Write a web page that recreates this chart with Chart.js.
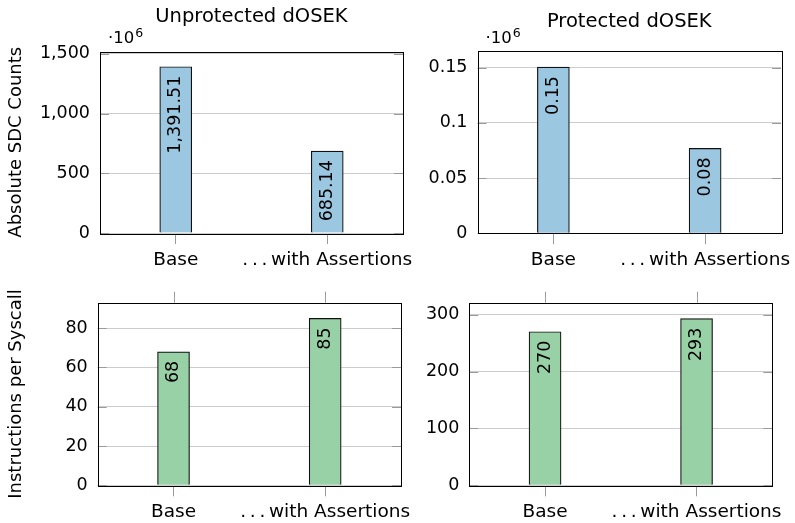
<!DOCTYPE html>
<html>
<head>
<meta charset="utf-8">
<script src="https://cdn.jsdelivr.net/npm/chart.js@4.4.1/dist/chart.umd.min.js"></script>
<style>
  html, body { margin: 0; padding: 0; background: #fff; }
  #wrap { position: relative; width: 795px; height: 523px; }
  #wrap canvas { position: absolute; left: 0; top: 0; }
</style>
</head>
<body>
<div id="wrap">
  <canvas id="sdcUnprot" width="795" height="523"></canvas>
  <canvas id="sdcProt" width="795" height="523"></canvas>
  <canvas id="insUnprot" width="795" height="523"></canvas>
  <canvas id="insProt" width="795" height="523"></canvas>
</div>
<script>
// categories shared by all four panels
const categories = ['Base', '.\u2009.\u2009.\u2009with Assertions'];

// SDC counts (in units of 10^6)
const sdcUnprotected = [1391.51, 685.14];
const sdcProtected = [0.1505, 0.0768];
// instructions per syscall
const insUnprotected = [68, 85];
const insProtected = [270, 293];

// y tick labels
const sdcUnprotTicks = [0, 500, 1000, 1500];
const sdcProtTicks = [0, 0.05, 0.1, 0.15];
const insUnprotTicks = [0, 20, 40, 60, 80];
const insProtTicks = [0, 100, 200, 300];

const BLUE = '#9bc7e0';
const GREEN = '#99d1a7';
const FONT = '"DejaVu Sans", sans-serif';

Chart.defaults.font.family = FONT;
Chart.defaults.font.size = 17;
Chart.defaults.color = '#000';

const decorate = {
  id: 'decorate',
  afterDatasetsDraw(chart, args, o) {
    const ctx = chart.ctx;
    const meta = chart.getDatasetMeta(0);
    const vals = chart.data.datasets[0].data;
    ctx.save();
    ctx.font = '17.5px ' + FONT;
    ctx.fillStyle = '#000';
    meta.data.forEach((bar, i) => {
      ctx.save();
      ctx.translate(bar.x, bar.y + 9);
      ctx.rotate(-Math.PI / 2);
      ctx.textAlign = 'right';
      ctx.textBaseline = 'middle';
      ctx.fillText(o.fmt(vals[i]), 0, 0);
      ctx.restore();
    });
    ctx.restore();
  },
  afterDraw(chart, args, o) {
    const {ctx, chartArea: a} = chart;
    const y = chart.scales.y, x = chart.scales.x;
    ctx.save();
    // inner tick marks on both sides
    ctx.strokeStyle = '#9a9a9a';
    ctx.lineWidth = 1;
    y.ticks.forEach(t => {
      const py = Math.round(y.getPixelForValue(t.value)) + 0.5;
      ctx.beginPath();
      ctx.moveTo(a.left, py); ctx.lineTo(a.left + 9, py);
      ctx.moveTo(a.right, py); ctx.lineTo(a.right - 9, py);
      ctx.stroke();
    });
    if (o.topTicks) {
      x.ticks.forEach((t, i) => {
        const px = Math.round(x.getPixelForTick(i)) + 0.5;
        ctx.beginPath();
        ctx.moveTo(px, a.top - 11); ctx.lineTo(px, a.top);
        ctx.stroke();
      });
    }
    // axis box
    ctx.strokeStyle = '#000';
    ctx.strokeRect(Math.round(a.left) + 0.5, Math.round(a.top) + 0.5,
      Math.round(a.right - a.left), Math.round(a.bottom - a.top));
    ctx.fillStyle = '#000';
    if (o.title) {
      ctx.font = '19.5px ' + FONT;
      ctx.textAlign = 'center';
      ctx.textBaseline = 'alphabetic';
      ctx.fillText(o.title, (a.left + a.right) / 2, o.titleY);
    }
    if (o.multiplier) {
      ctx.textAlign = 'left';
      ctx.textBaseline = 'alphabetic';
      ctx.font = '16.5px ' + FONT;
      const x0 = a.left + 8;
      ctx.fillText('\u00b710', x0, 43);
      const w = ctx.measureText('\u00b710').width;
      ctx.font = '12.5px ' + FONT;
      ctx.fillText('6', x0 + w + 1, 37);
    }
    ctx.restore();
  }
};

function panel(id, p) {
  const yw = p.area.l - p.padLeft;
  return new Chart(document.getElementById(id), {
    type: 'bar',
    data: {
      labels: categories,
      datasets: [{
        data: p.values,
        backgroundColor: p.color,
        borderColor: '#111',
        borderWidth: 1.2,
        barThickness: 32
      }]
    },
    options: {
      responsive: false,
      animation: false,
      devicePixelRatio: 1,
      layout: {
        padding: {left: p.padLeft, right: 795 - p.area.r, top: p.area.t, bottom: 523 - p.area.b - 40}
      },
      plugins: {
        legend: {display: false},
        tooltip: {enabled: false},
        decorate: {fmt: p.fmt, title: p.title, titleY: p.titleY, multiplier: p.multiplier, topTicks: p.topTicks}
      },
      scales: {
        x: {
          offset: true,
          grid: {offset: false, drawOnChartArea: false, drawTicks: true, tickLength: 11, tickColor: '#9a9a9a', lineWidth: 1},
          border: {display: false},
          ticks: {padding: 5, maxRotation: 0, autoSkip: false, font: {size: 18.5}},
          afterFit: s => { s.height = 40; s.paddingLeft = 0; s.paddingRight = 0; }
        },
        y: {
          min: 0,
          max: p.yMax,
          afterBuildTicks: s => { s.ticks = p.ticks.map(v => ({value: v})); },
          afterFit: s => { s.width = yw; s.paddingTop = 0; s.paddingBottom = 0; },
          grid: {color: '#cccccc', lineWidth: 1, drawTicks: false},
          border: {display: false},
          ticks: {padding: 10, font: {size: 17.5}, callback: v => v.toLocaleString('en-US')},
          title: p.yTitle
            ? {display: true, text: p.yTitle, font: {size: 18}, padding: {top: 6, bottom: 0}}
            : {display: false}
        }
      }
    },
    plugins: [decorate]
  });
}

const two = v => v.toLocaleString('en-US', {minimumFractionDigits: 2, maximumFractionDigits: 2});
const int = v => String(v);

panel('sdcUnprot', {
  values: sdcUnprotected, color: BLUE, ticks: sdcUnprotTicks, yMax: 1519,
  area: {l: 100, r: 403, t: 51.5, b: 233}, padLeft: 0,
  yTitle: 'Absolute SDC Counts', title: 'Unprotected dOSEK', titleY: 22,
  multiplier: true, fmt: two
});
panel('sdcProt', {
  values: sdcProtected, color: BLUE, ticks: sdcProtTicks, yMax: 0.165,
  area: {l: 477.5, r: 781, t: 51, b: 233.3}, padLeft: 417.5,
  title: 'Protected dOSEK', titleY: 26.5, multiplier: true, fmt: two
});
panel('insUnprot', {
  values: insUnprotected, color: GREEN, ticks: insUnprotTicks, yMax: 93,
  area: {l: 97.7, r: 401, t: 302.7, b: 485.3}, padLeft: 0,
  yTitle: 'Instructions per Syscall', topTicks: true, fmt: int
});
panel('insProt', {
  values: insProtected, color: GREEN, ticks: insProtTicks, yMax: 321,
  area: {l: 469.3, r: 772.3, t: 302.7, b: 485.3}, padLeft: 409.3,
  topTicks: true, fmt: int
});
</script>
</body>
</html>
